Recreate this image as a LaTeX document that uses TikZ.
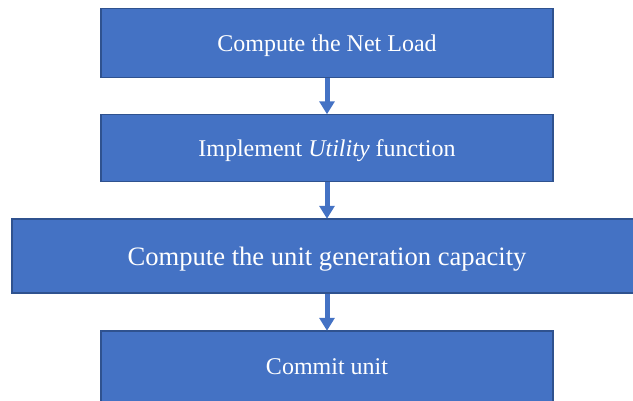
\documentclass[tikz,border=0pt]{standalone}
\usepackage{fontspec}
\setmainfont{Liberation Serif}
\usepackage{tikz}
\usetikzlibrary{positioning,arrows.meta}

\definecolor{boxblue}{HTML}{4472C4}
\definecolor{edgeblue}{HTML}{2F528F}

\begin{document}
\begin{tikzpicture}[x=1pt, y=-1pt,
        flowbox/.style={rectangle, draw=edgeblue, fill=boxblue, line width=1.5pt,
            text=white, inner sep=0pt, text depth=0pt, font=\fontsize{24}{28}\selectfont},
        flowarrow/.style={draw=boxblue, line width=5pt,
            -{Triangle[width=15pt, length=13pt]}, shorten >=-0.5pt}]

        % page frame
        \useasboundingbox (0,0) rectangle (633,400);
        \clip (0,0) rectangle (633,400);

        % the four steps
        \node[flowbox, minimum width=452pt, minimum height=69pt] (netload) at (327,43) {Compute the Net Load};
        \node[flowbox, minimum width=452pt, minimum height=67pt] (utility) at (327,148) {Implement \textit{Utility} function};
        \node[flowbox, minimum width=630pt, minimum height=74pt, font=\fontsize{26.6}{30}\selectfont] (capacity) at (327,256) {Compute the unit generation capacity};
        \node[flowbox, minimum width=452pt, minimum height=72pt] (commit) at (327,367) {Commit unit};

        % arrows between the steps
        \draw[flowarrow] (netload.south) -- (utility.north);
        \draw[flowarrow] (utility.south) -- (capacity.north);
        \draw[flowarrow] (capacity.south) -- (commit.north);

    \end{tikzpicture}
\end{document}
